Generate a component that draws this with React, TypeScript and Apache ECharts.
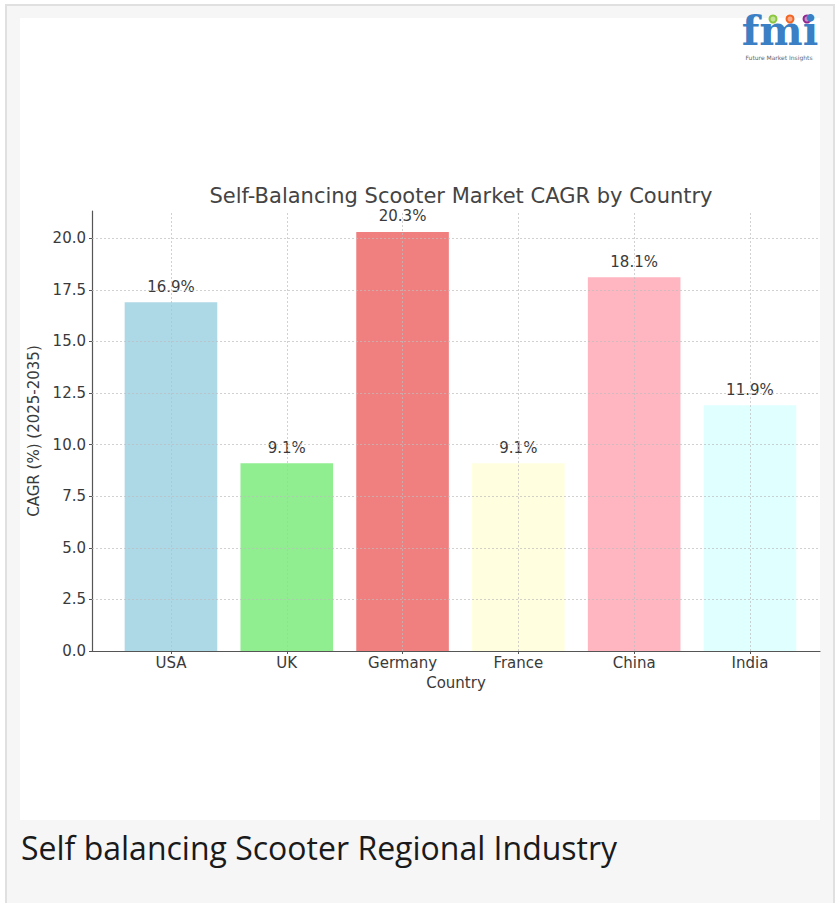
import React, { useEffect, useRef } from "react";
import * as echarts from "echarts";

const categories = ["USA", "UK", "Germany", "France", "China", "India"];
const cagrValues = [16.9, 9.1, 20.3, 9.1, 18.1, 11.9];
const barColors = ["#ADD8E6", "#90EE90", "#F08080", "#FFFFE0", "#FFB6C1", "#E0FFFF"];
const yTicks = [0, 2.5, 5, 7.5, 10, 12.5, 15, 17.5, 20];
const xTicks = [0, 1, 2, 3, 4, 5];
const chartTitle = "Self-Balancing Scooter Market CAGR by Country";
const xAxisName = "Country";
const yAxisName = "CAGR (%) (2025-2035)";
const captionText = "Self balancing Scooter Regional Industry";
const logoText = "fmi";
const logoSubText = "Future Market Insights";

const FONT = "'DejaVu Sans', sans-serif";

export default function App() {
  const ref = useRef<HTMLDivElement>(null);

  useEffect(() => {
    if (!ref.current) return;
    const chart = echarts.init(ref.current, null, { renderer: "svg" });
    const option: any = {
      animation: false,
      backgroundColor: "transparent",
      title: {
        text: chartTitle,
        left: 461,
        top: 184,
        padding: 0,
        textAlign: "center",
        textStyle: {
          fontFamily: FONT,
          fontSize: 21,
          fontWeight: "normal",
          color: "#444",
          lineHeight: 24,
        },
      },
      grid: { left: 92, right: 18, top: 211, bottom: 252, containLabel: false },
      xAxis: {
        type: "value",
        min: -0.682,
        max: 5.605,
        name: xAxisName,
        nameLocation: "middle",
        nameGap: 24,
        nameTextStyle: { fontFamily: FONT, fontSize: 15, color: "#3a3a3a" },
        axisLine: { show: true, onZero: false, lineStyle: { color: "#555", width: 1.2 } },
        axisTick: { show: true, customValues: xTicks, length: 3, lineStyle: { color: "#555" } },
        axisLabel: {
          customValues: xTicks,
          formatter: (v: number) => categories[Math.round(v)] ?? "",
          margin: 4,
          fontFamily: FONT,
          fontSize: 15,
          color: "#3a3a3a",
        },
        splitLine: { show: false },
      },
      yAxis: {
        type: "value",
        min: 0,
        max: 21.315,
        name: yAxisName,
        nameLocation: "middle",
        nameGap: 43,
        nameTextStyle: { fontFamily: FONT, fontSize: 15, color: "#3a3a3a" },
        axisLine: { show: true, onZero: false, lineStyle: { color: "#555", width: 1.2 } },
        axisTick: { show: true, customValues: yTicks, length: 3, lineStyle: { color: "#555" } },
        axisLabel: {
          customValues: yTicks,
          formatter: (v: number) => v.toFixed(1),
          margin: 6,
          fontFamily: FONT,
          fontSize: 15,
          color: "#3a3a3a",
        },
        splitLine: { show: false },
      },
      series: [
        {
          type: "bar",
          barWidth: 92.6,
          data: cagrValues.map((v, i) => ({
            value: [xTicks[i], v],
            itemStyle: { color: barColors[i] },
          })),
          label: {
            show: true,
            position: "top",
            distance: 8,
            formatter: (p: any) => p.value[1].toFixed(1) + "%",
            fontFamily: FONT,
            fontSize: 15,
            color: "#3a3a3a",
          },
          emphasis: { disabled: true },
          markLine: {
            silent: true,
            symbol: ["none", "none"],
            label: { show: false },
            lineStyle: { color: "#bdbdbd", type: [2, 2], width: 1, opacity: 0.7 },
            emphasis: { disabled: true },
            data: [
              ...xTicks.map((x) => ({ xAxis: x })),
              ...yTicks.filter((v) => v > 0).map((v) => ({ yAxis: v })),
            ],
          },
        },
      ],
      graphic: [
        {
          type: "circle",
          shape: { cx: 773, cy: 19, r: 3.5 },
          style: { fill: "#c5e39b", stroke: "#8dc63f", lineWidth: 2 },
        },
        {
          type: "circle",
          shape: { cx: 790, cy: 19, r: 3.5 },
          style: { fill: "#f7a98a", stroke: "#f26522", lineWidth: 2 },
        },
        {
          type: "circle",
          shape: { cx: 807, cy: 19, r: 3.5 },
          style: { fill: "#c98cc8", stroke: "#92278f", lineWidth: 2 },
        },
        {
          type: "text",
          x: 780,
          y: 51,
          style: {
            text: logoText,
            font: "bold 41px 'DejaVu Serif', serif",
            fill: "#3b7fc4",
            textAlign: "center",
            textVerticalAlign: "bottom",
          },
        },
        {
          type: "text",
          x: 779,
          y: 57,
          style: {
            text: logoSubText,
            font: "6px 'DejaVu Sans', sans-serif",
            fill: "#666",
            textAlign: "center",
            textVerticalAlign: "middle",
          },
        },
        {
          type: "text",
          x: 21,
          y: 847,
          style: {
            text: captionText,
            font: "32px 'Open Sans', sans-serif",
            fill: "#1a1a1a",
            textAlign: "left",
            textVerticalAlign: "middle",
          },
        },
      ],
    };
    chart.setOption(option);
    return () => chart.dispose();
  }, []);

  return (
    <div style={{ position: "absolute", left: 0, top: 0, width: 838, height: 903, background: "#fff", overflow: "hidden" }}>
      <div
        style={{
          position: "absolute",
          left: 5,
          top: 4,
          width: 830,
          height: 905,
          boxSizing: "border-box",
          background: "#f6f6f6",
          borderTop: "2px solid #e0e0e0",
          borderLeft: "2px solid #e0e0e0",
          borderRight: "2px solid #e0e0e0",
        }}
      />
      <div style={{ position: "absolute", left: 20, top: 18, width: 800, height: 802, background: "#fff" }} />
      <div ref={ref} style={{ position: "absolute", left: 0, top: 0, width: 838, height: 903 }} />
    </div>
  );
}
